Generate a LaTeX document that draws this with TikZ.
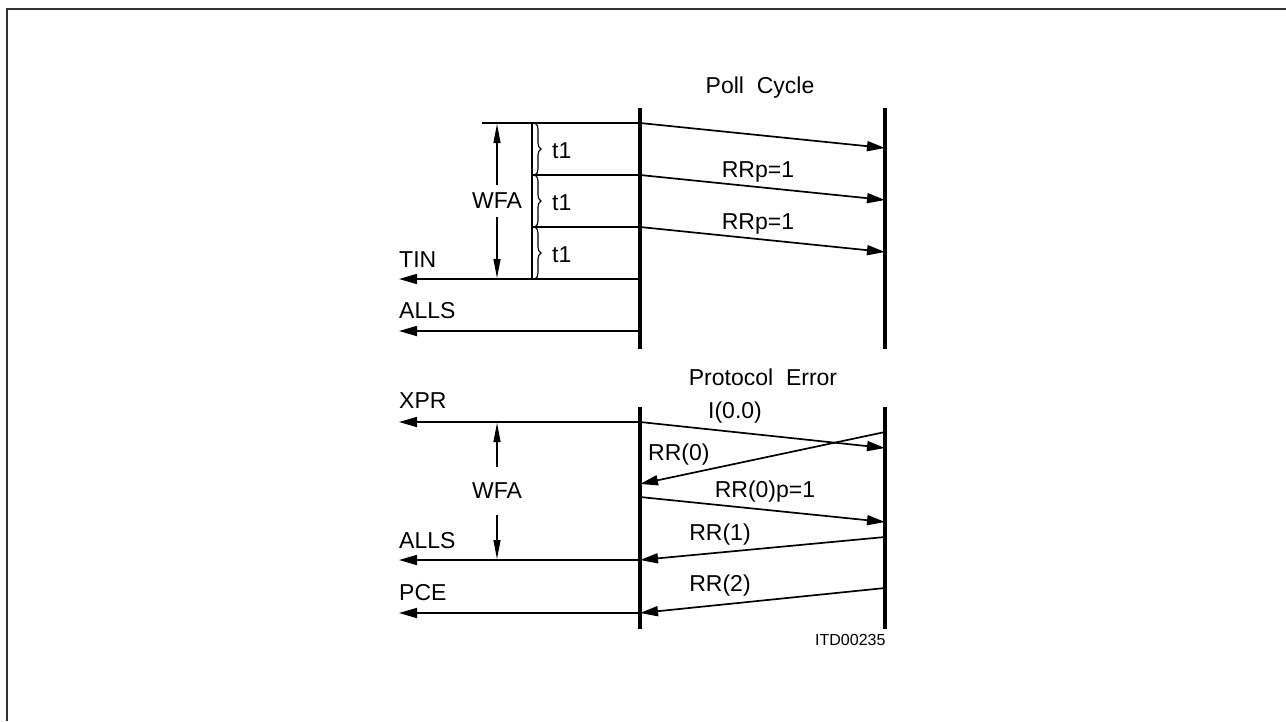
\documentclass[tikz,border=0pt]{standalone}
\usepackage{fontspec}
\setmainfont{Liberation Sans}
\usepackage{tikz}
\usetikzlibrary{arrows.meta, decorations.pathreplacing}

\tikzset{
  lifeline/.style={line width=3.4pt},
  sig/.style={line width=1.7pt},
  msg/.style={line width=1.7pt, -{Triangle[length=18pt,width=10pt]}},
  dimarrow/.style={line width=1.1pt, {Triangle[length=19pt,width=7pt]}-{Triangle[length=19pt,width=7pt]}},
  lbl/.style={font=\fontsize{23}{27}\selectfont, inner sep=0pt},
  tbrace/.style={line width=1.1pt, decorate, decoration={brace, amplitude=6pt}},
}

\begin{document}
\begin{tikzpicture}[x=1pt, y=-1pt]
  \useasboundingbox (0,0) rectangle (1286,721);
  % frame
  \draw[line width=2pt, black!80] (7,721) -- (7,9) -- (1286,9);

  % poll cycle: lifelines
  \coordinate (p-lt) at (640,108);
  \coordinate (p-lb) at (640,349);
  \coordinate (p-rt) at (885,108);
  \coordinate (p-rb) at (885,349);
  \draw[lifeline] (p-lt) -- (p-lb);
  \draw[lifeline] (p-rt) -- (p-rb);
  \node[lbl, anchor=base] (poll) at (760,93) {Poll\ \ Cycle};

  % poll cycle: points on the lifelines
  \coordinate (p-s0) at (640,123);
  \coordinate (p-s1) at (640,175);
  \coordinate (p-s2) at (640,227);
  \coordinate (p-s3) at (640,279);
  \coordinate (p-s4) at (640,331);
  \coordinate (p-r0) at (885,148);
  \coordinate (p-r1) at (885,200);
  \coordinate (p-r2) at (885,252);
  \coordinate (p-w0) at (482,123);
  \coordinate (p-v0) at (532,123);
  \coordinate (p-v1) at (532,175);
  \coordinate (p-v2) at (532,227);
  \coordinate (p-v3) at (532,279);
  \coordinate (p-tin) at (399,279);
  \coordinate (p-alls) at (399,331);

  % poll cycle: messages
  \draw[sig] (p-w0) -- (p-s0);
  \draw[sig] (p-v1) -- (p-s1);
  \draw[sig] (p-v2) -- (p-s2);
  \draw[msg] (p-s0) -- (p-r0);
  \draw[msg] (p-s1) -- (p-r1);
  \draw[msg] (p-s2) -- (p-r2);
  \node[lbl, anchor=base] (rrp1) at (758,177) {RRp=1};
  \node[lbl, anchor=base] (rrp2) at (758,229) {RRp=1};
  \draw[msg] (p-s3) -- (p-tin);
  \draw[msg] (p-s4) -- (p-alls);
  \node[lbl, anchor=base west] (tin) at (399,267) {TIN};
  \node[lbl, anchor=base west] (alls1) at (399,318) {ALLS};

  % poll cycle: t1 intervals
  \draw[sig] (p-v0) -- (p-v3);
  \draw[tbrace] ([xshift=3pt]p-v0) -- ([xshift=3pt]p-v1);
  \draw[tbrace] ([xshift=3pt]p-v1) -- ([xshift=3pt]p-v2);
  \draw[tbrace] ([xshift=3pt]p-v2) -- ([xshift=3pt]p-v3);
  \node[lbl, anchor=base west] (t1a) at (552,158) {t1};
  \node[lbl, anchor=base west] (t1b) at (552,210) {t1};
  \node[lbl, anchor=base west] (t1c) at (552,262) {t1};

  % poll cycle: WFA
  \coordinate (p-wfa-t) at (497,124);
  \coordinate (p-wfa-b) at (497,278);
  \draw[dimarrow] (p-wfa-t) -- node[lbl, fill=white, inner ysep=8pt] (wfa1) {WFA} (p-wfa-b);

  % protocol error: lifelines
  \coordinate (e-lt) at (640,407);
  \coordinate (e-lb) at (640,629);
  \coordinate (e-rt) at (885,407);
  \coordinate (e-rb) at (885,629);
  \draw[lifeline] (e-lt) -- (e-lb);
  \draw[lifeline] (e-rt) -- (e-rb);
  \node[lbl, anchor=base] (perr) at (763,385) {Protocol\ \ Error};

  % protocol error: points on the lifelines
  \coordinate (e-s0) at (640,422);
  \coordinate (e-s1) at (640,484);
  \coordinate (e-s2) at (640,497);
  \coordinate (e-s3) at (640,560);
  \coordinate (e-s4) at (640,613);
  \coordinate (e-r0) at (885,448);
  \coordinate (e-r1) at (885,432);
  \coordinate (e-r2) at (885,522);
  \coordinate (e-r3) at (885,537);
  \coordinate (e-r4) at (885,588);
  \coordinate (e-xpr) at (399,422);
  \coordinate (e-alls) at (399,560);
  \coordinate (e-pce) at (399,613);

  % protocol error: messages
  \draw[msg] (e-s0) -- (e-r0);
  \draw[msg] (e-r1) -- (e-s1);
  \draw[msg] (e-s2) -- (e-r2);
  \draw[msg] (e-r3) -- (e-s3);
  \draw[msg] (e-r4) -- (e-s4);
  \node[lbl, anchor=base] (i00) at (735,418) {I(0.0)};
  \node[lbl, anchor=base west] (rr0) at (648,460) {RR(0)};
  \node[lbl, anchor=base] (rr0p) at (765,497) {RR(0)p=1};
  \node[lbl, anchor=base] (rr1) at (720,540) {RR(1)};
  \node[lbl, anchor=base] (rr2) at (720,591) {RR(2)};
  \draw[msg] (e-s0) -- (e-xpr);
  \draw[msg] (e-s3) -- (e-alls);
  \draw[msg] (e-s4) -- (e-pce);
  \node[lbl, anchor=base west] (xpr) at (399,408) {XPR};
  \node[lbl, anchor=base west] (alls2) at (399,548) {ALLS};
  \node[lbl, anchor=base west] (pce) at (399,600) {PCE};

  % protocol error: WFA
  \coordinate (e-wfa-t) at (497,423);
  \coordinate (e-wfa-b) at (497,559);
  \draw[dimarrow] (e-wfa-t) -- node[lbl, fill=white, inner ysep=16pt] (wfa2) {WFA} (e-wfa-b);

  % figure id
  \node[font=\fontsize{16}{19}\selectfont, anchor=base west, inner sep=0pt] (itd) at (815,645) {ITD00235};
\end{tikzpicture}
\end{document}
